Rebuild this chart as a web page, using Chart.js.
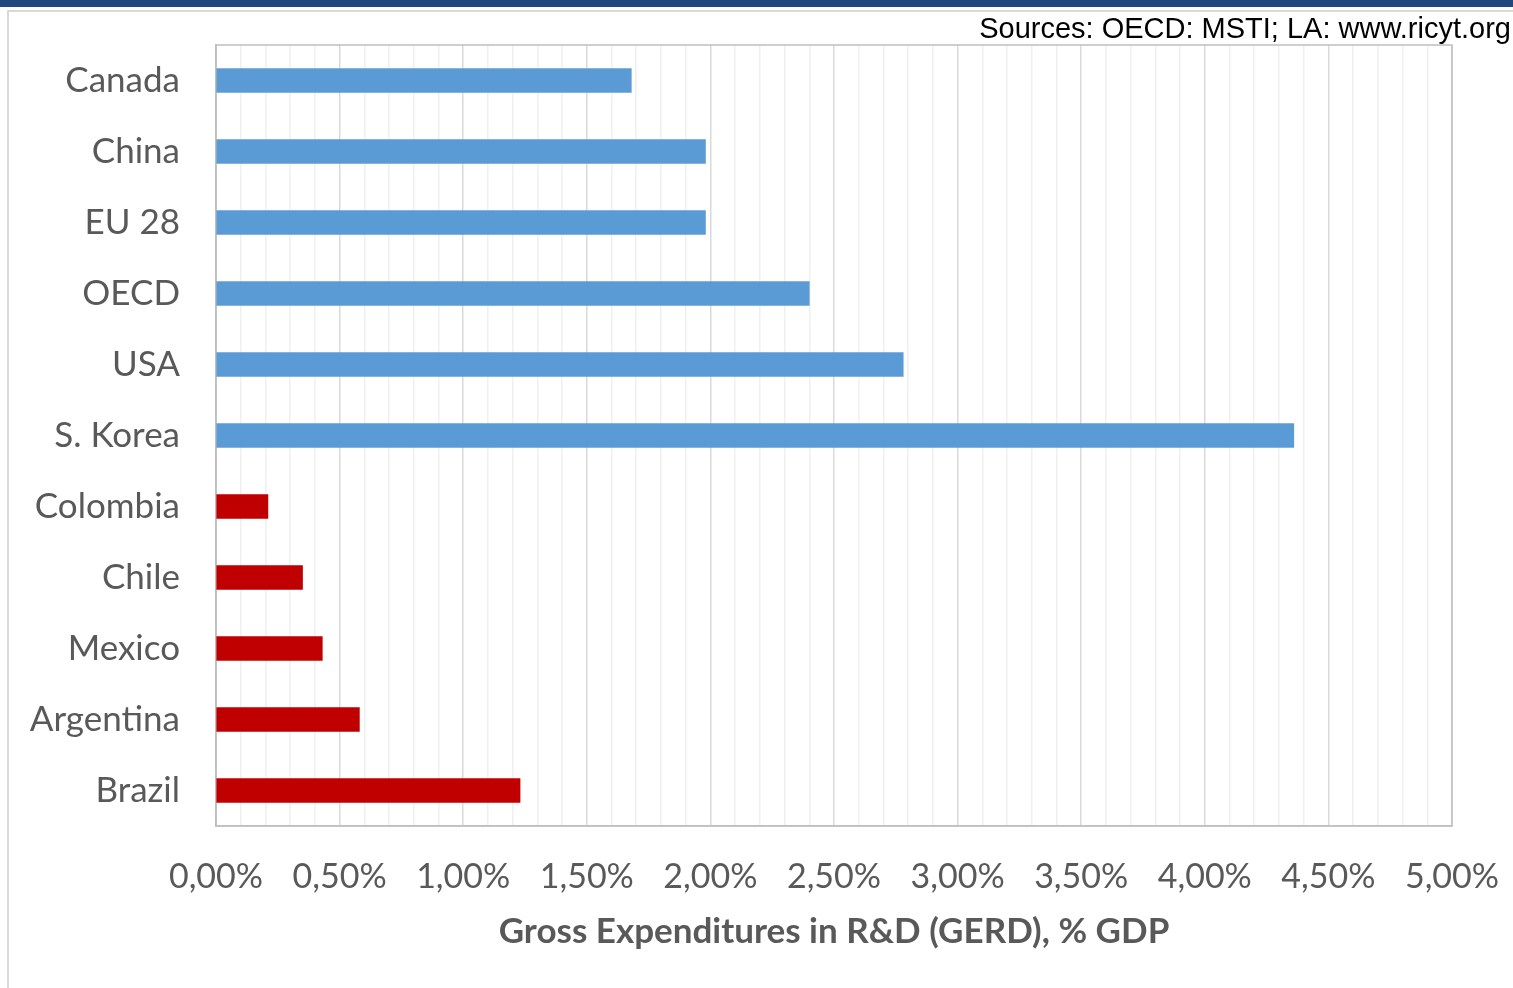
<!DOCTYPE html>
<html lang="en">
  <head>
    <meta charset="UTF-8">
    <title>GERD % GDP</title>
    <script src="https://cdn.jsdelivr.net/npm/chart.js"></script>
    <style>
      body {
        margin: 0;
        padding: 0;
        background: #ffffff;
        overflow: hidden;
      }
      .topbar {
        position: absolute;
        left: 0; top: 0;
        width: 1513px; height: 7px;
        background: #1f497d;
      }
      .frame {
        position: absolute;
        left: 7px; top: 10px;
        width: 1520px; height: 990px;
        border: 2px solid #d9d9d9;
      }
      .source {
        position: absolute;
        right: 2px; top: 12px;
        font-family: "Liberation Sans", Arial, sans-serif;
        font-size: 29px;
        color: #000000;
        white-space: nowrap;
      }
      .chart-container {
        position: absolute;
        left: 0; top: 0;
        width: 1513px; height: 988px;
      }
    </style>
  </head>
  <body>
    <div class="topbar"></div>
    <div class="frame"></div>
    <div class="chart-container">
      <canvas id="gerdChart"></canvas>
    </div>
    <div class="source">Sources: OECD: MSTI; LA: www.ricyt.org</div>

    <script>
      // countries, top to bottom
      const countries = ['Canada', 'China', 'EU 28', 'OECD', 'USA', 'S. Korea',
                         'Colombia', 'Chile', 'Mexico', 'Argentina', 'Brazil'];
      // GERD, % of GDP
      const gerd = [1.68, 1.98, 1.98, 2.40, 2.78, 4.36, 0.21, 0.35, 0.43, 0.58, 1.23];
      // 'ref' = OECD reference economies, 'la' = Latin America
      const groups = ['ref', 'ref', 'ref', 'ref', 'ref', 'ref', 'la', 'la', 'la', 'la', 'la'];
      const xTickLabels = ['0,00%', '0,50%', '1,00%', '1,50%', '2,00%', '2,50%',
                           '3,00%', '3,50%', '4,00%', '4,50%', '5,00%'];

      const groupColors = { ref: '#5b9bd5', la: '#c00000' };
      const labelFont = '"Lato", "Liberation Sans", sans-serif';

      // box round the plot area
      const plotBorder = {
        id: 'plotBorder',
        beforeDatasetsDraw(chart) {
          const a = chart.chartArea;
          const ctx = chart.ctx;
          ctx.save();
          ctx.strokeStyle = '#bfbfbf';
          ctx.lineWidth = 1.5;
          ctx.strokeRect(a.left, a.top, a.right - a.left, a.bottom - a.top);
          ctx.restore();
        }
      };

      const ctx = document.getElementById('gerdChart').getContext('2d');
      new Chart(ctx, {
        type: 'bar',
        data: {
          labels: countries,
          datasets: [{
            data: gerd,
            backgroundColor: groups.map(g => groupColors[g]),
            barThickness: 24,
          }]
        },
        plugins: [plotBorder],
        options: {
          indexAxis: 'y',
          responsive: true,
          maintainAspectRatio: false,
          animation: false,
          layout: {
            padding: { top: 45, right: 61, bottom: 0, left: 0 }
          },
          plugins: {
            legend: { display: false },
            tooltip: { enabled: false },
          },
          scales: {
            x: {
              min: 0,
              max: 5,
              afterFit: (scale) => {
                scale.height = 162;
                scale.paddingLeft = 0;
                scale.paddingRight = 0;
              },
              border: { color: '#bfbfbf', width: 1.5 },
              grid: {
                drawTicks: false,
                color: (c) => (Math.round(c.tick.value * 10) % 5 === 0) ? '#d9d9d9' : '#f0f0f0',
                lineWidth: 1.5,
              },
              ticks: {
                stepSize: 0.1,
                autoSkip: false,
                maxRotation: 0,
                minRotation: 0,
                padding: 31,
                color: '#595959',
                font: { family: labelFont, size: 34 },
                callback: (v) => {
                  const k = Math.round(v * 10);
                  return k % 5 === 0 ? xTickLabels[k / 5] : '';
                },
              },
              title: {
                display: true,
                text: 'Gross Expenditures in R&D (GERD), % GDP',
                color: '#595959',
                font: { family: labelFont, size: 35, weight: 'bold' },
                padding: { top: 0, bottom: 35 },
              },
            },
            y: {
              afterFit: (scale) => {
                scale.width = 216;
                scale.paddingTop = 0;
                scale.paddingBottom = 0;
              },
              border: { color: '#bfbfbf', width: 1.5 },
              grid: { display: false, drawTicks: false },
              ticks: {
                padding: 36,
                color: '#595959',
                font: { family: labelFont, size: 35 },
              },
            },
          },
        },
      });
    </script>
  </body>
</html>
